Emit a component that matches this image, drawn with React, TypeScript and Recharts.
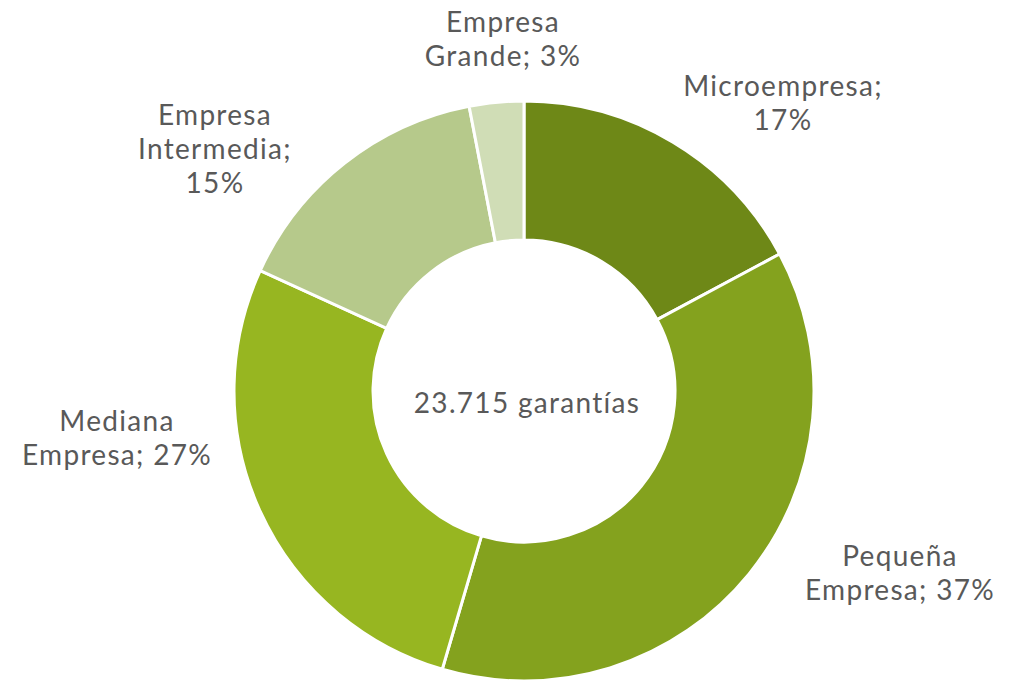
import { PieChart, Pie, Cell } from 'recharts'

const categories = ['Microempresa', 'Pequeña Empresa', 'Mediana Empresa', 'Empresa Intermedia', 'Empresa Grande']
const shares = [17, 37, 27, 15, 3]
const labelLines = [
    ['Microempresa;', '17%'],
    ['Pequeña', 'Empresa; 37%'],
    ['Mediana', 'Empresa; 27%'],
    ['Empresa', 'Intermedia;', '15%'],
    ['Empresa', 'Grande; 3%'],
]
const colors = ['#6E8817', '#84A21E', '#97B621', '#B6C98B', '#D0DDB6']
const totalLabel = '23.715 garantías'

// label anchors (first baseline) relative to the centre, placed by hand like the original
const labelOffsets = [
    { dx: 259, dy: -295 },
    { dx: 376, dy: 175 },
    { dx: -407, dy: 40 },
    { dx: -309, dy: -266 },
    { dx: -21, dy: -359 },
]

const data = categories.map((name, i) => ({ name, value: shares[i] }))

const FONT = 'Lato, sans-serif'
const TEXT = '#595959'
const FONT_SIZE = 28
const SPACING = 1.3
const LINE_H = 34

const renderLabel = (props: any) => {
    const { cx, cy, index } = props
    const lines = labelLines[index]
    const off = labelOffsets[index]
    return (
        <text
            x={cx + off.dx}
            y={cy + off.dy}
            textAnchor="middle"
            fill={TEXT}
            fontSize={FONT_SIZE}
            fontFamily={FONT}
            letterSpacing={SPACING}
        >
            {lines.map((l, k) => (
                <tspan key={k} x={cx + off.dx} dy={k === 0 ? 0 : LINE_H}>
                    {l}
                </tspan>
            ))}
        </text>
    )
}

export default function App() {
    return (
        <div style={{ position: 'absolute', left: 0, top: 0, background: '#fff' }}>
            <PieChart width={1019} height={682} margin={{ top: 0, right: 0, bottom: 0, left: 0 }}>
                <Pie
                    data={data}
                    dataKey="value"
                    nameKey="name"
                    cx={524}
                    cy={391}
                    innerRadius={151}
                    outerRadius={290}
                    startAngle={90}
                    endAngle={-270}
                    stroke="#ffffff"
                    strokeWidth={3}
                    label={renderLabel}
                    labelLine={false}
                    isAnimationActive={false}
                >
                    {data.map((d, i) => (
                        <Cell key={d.name} fill={colors[i]} />
                    ))}
                </Pie>
                <text
                    x={527}
                    y={413}
                    textAnchor="middle"
                    fill={TEXT}
                    fontSize={FONT_SIZE}
                    fontFamily={FONT}
                    letterSpacing={SPACING}
                >
                    {totalLabel}
                </text>
            </PieChart>
        </div>
    )
}
